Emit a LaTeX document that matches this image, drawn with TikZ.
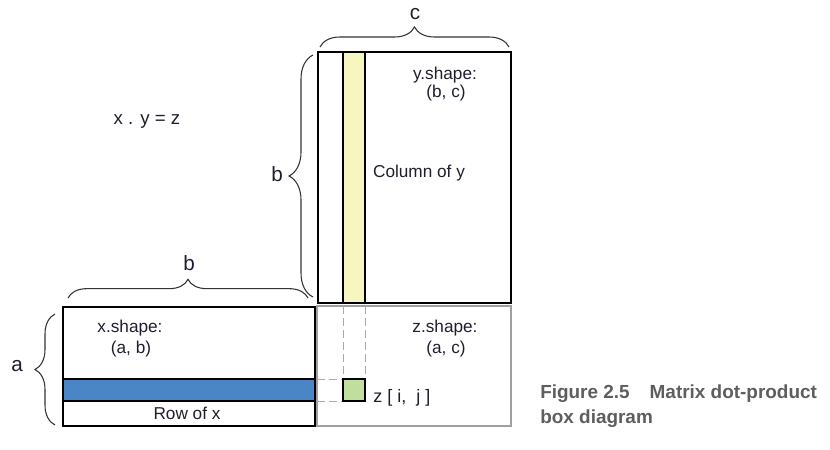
\documentclass[tikz,border=0pt]{standalone}
\usepackage{fontspec}
\setmainfont{Liberation Sans}
\usetikzlibrary{decorations.pathreplacing}
\definecolor{txt}{HTML}{1E1E2E}
\definecolor{capgray}{HTML}{5E5E5E}
\definecolor{yelfill}{HTML}{F7F5C0}
\definecolor{bluefill}{HTML}{4A86C5}
\definecolor{greenfill}{HTML}{C2DE9E}
\definecolor{zgray}{HTML}{A0A0A0}
\definecolor{dashcol}{HTML}{A6AE9E}
\begin{document}
\begin{tikzpicture}[x=0.75pt,y=-0.75pt,
  lbl/.style={inner sep=0pt, text=txt, font=\fontsize{12.9pt}{15pt}\selectfont},
  biglbl/.style={inner sep=0pt, text=txt, font=\fontsize{15.5pt}{18pt}\selectfont},
  captext/.style={inner sep=0pt, anchor=base west, text=capgray, font=\fontsize{14.2pt}{17pt}\selectfont\bfseries},
  box/.style={draw=black, line width=0.9pt},
  zbox/.style={draw=zgray, line width=0.9pt},
  guide/.style={draw=dashcol, line width=0.7pt, dash pattern=on 6pt off 3pt},
  mybrace/.style={decorate, decoration={brace, amplitude=#1}, draw=black!80, line width=0.8pt}]
\useasboundingbox (0,0) rectangle (830,449);

% coordinates
\coordinate (yNW) at (318,52);  \coordinate (ySE) at (511,303);
\coordinate (colNW) at (343,52); \coordinate (colSE) at (365,303);
\coordinate (zNW) at (317,306); \coordinate (zSE) at (511,426);
\coordinate (xNW) at (63,307);  \coordinate (xSE) at (315,426);
\coordinate (rowNW) at (63,379); \coordinate (rowSE) at (315,401);
\coordinate (cellNW) at (343,379); \coordinate (cellSE) at (365,401);

% y matrix
\fill[yelfill] (colNW) rectangle (colSE);
\draw[box] (yNW) rectangle (ySE);
\draw[box] (colNW) -- (343,303) (365,52) -- (colSE);

% z matrix
\draw[zbox] (zNW) rectangle (zSE);
\coordinate (v1a) at (343,306); \coordinate (v1b) at (343,375);
\coordinate (v2a) at (365,306); \coordinate (v2b) at (365,375);
\coordinate (h1a) at (317,379); \coordinate (h2a) at (317,401);
\coordinate (h2b) at (343,401);
\draw[guide] (v1a) -- (v1b);
\draw[guide] (v2a) -- (v2b);
\draw[guide] (h1a) -- (cellNW);
\draw[guide] (h2a) -- (h2b);
\draw[box, fill=greenfill] (cellNW) rectangle (cellSE);

% x matrix
\draw[box] (xNW) rectangle (xSE);
\draw[box, fill=bluefill] (rowNW) rectangle (rowSE);

% braces
\draw[mybrace=15pt] (320,47) -- (509,47);
\draw[mybrace=18pt] (313,297) -- (313,55);
\draw[mybrace=14pt] (68,298) -- (308,298);
\draw[mybrace=15pt] (55,425) -- (55,314);

% labels
\node[biglbl] (lc) at (415,14) {c};
\node[biglbl] (lby) at (277,174) {b};
\node[biglbl] (lbx) at (189,263) {b};
\node[biglbl] (la) at (17,366) {a};
\node[lbl, font=\fontsize{14pt}{16pt}\selectfont] (eq) at (147,122) {x . y = z};
\node[lbl] (ys1) at (445,75) {y.shape:};
\node[lbl] (ys2) at (446,93) {(b, c)};
\node[lbl] (coly) at (419,173) {Column of y};
\node[lbl] (xs1) at (130,328) {x.shape:};
\node[lbl] (xs2) at (131,349) {(a, b)};
\node[lbl] (rowx) at (187,413) {Row of x};
\node[lbl] (zs1) at (445,328) {z.shape:};
\node[lbl] (zs2) at (446,349) {(a, c)};
\node[lbl, anchor=west, font=\fontsize{13.5pt}{16pt}\selectfont] (zij) at (373,398) {z [ i,\ \ j ]};

% caption
\node[captext] (cap1) at (540,398) {Figure 2.5\hspace{15pt}Matrix dot-product};
\node[captext] (cap2) at (540,423) {box diagram};
\end{tikzpicture}
\end{document}
